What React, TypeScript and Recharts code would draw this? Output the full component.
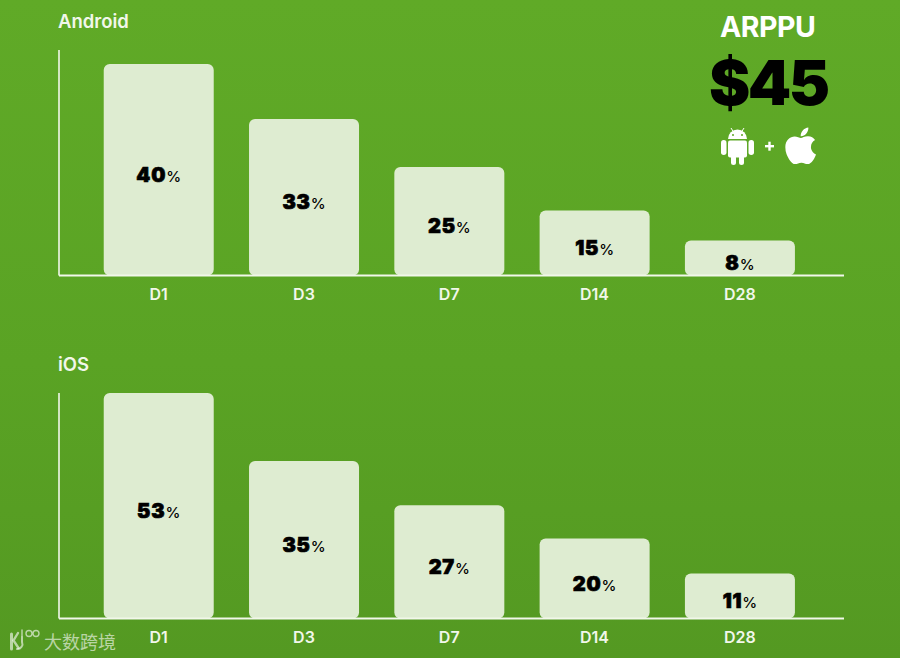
import React from 'react';
import { BarChart, Bar, XAxis, YAxis, LabelList } from 'recharts';

const days = ['D1', 'D3', 'D7', 'D14', 'D28'];
// Labels printed on the bars
const androidLabels = [40, 33, 25, 15, 8];
const iosLabels = [53, 35, 27, 20, 11];
// Bar lengths as drawn in the picture (they are not proportional to the printed labels)
const androidDrawn = [40, 29.6, 20.5, 12.3, 6.6];
const iosDrawn = [53, 37, 26.6, 18.8, 10.6];
const androidTop = 42.65;
const iosTop = 53;

const WHITE = '#F1F7EA';
const BAR = '#DEECD1';
const UI = 'Inter, "Noto Sans", sans-serif';

function build(drawn: number[], labels: number[]) {
  return days.map((d, i) => ({ day: d, drawn: drawn[i], label: labels[i] }));
}

function makeLabel(labels: number[]) {
  return (props: any) => {
    const { x, y, width, height, index } = props;
    return (
      <text x={x + width / 2} y={y + height / 2 + 5} textAnchor="middle" dominantBaseline="central" fill="#000">
        <tspan fontFamily={UI} fontWeight={900} fontSize={20} stroke="#000" strokeWidth={0.7} letterSpacing={0.8}>
          {labels[index]}
        </tspan>
        <tspan fontFamily={UI} fontWeight={500} fontSize={15} dy={1}>%</tspan>
      </text>
    );
  };
}

function Panel({ data, labels, top, domainTop }: { data: any[]; labels: number[]; top: number; domainTop: number }) {
  return (
    <div style={{ position: 'absolute', left: 0, top }}>
      <BarChart width={900} height={270} data={data} margin={{ top: 10, right: 56, bottom: 4.5, left: 58 }} barCategoryGap="12.2%">
        <XAxis
          dataKey="day"
          height={30}
          axisLine={{ stroke: WHITE, strokeWidth: 2 }}
          tickLine={false}
          padding={{ left: 27, right: 31.5 }}
          tick={{ fill: WHITE, fontFamily: UI, fontWeight: 600, fontSize: 16 }}
          tickMargin={7}
          interval={0}
        />
        <YAxis
          width={1}
          domain={[0, domainTop]}
          tick={false}
          tickLine={false}
          axisLine={{ stroke: WHITE, strokeWidth: 1.6 }}
        />
        <Bar dataKey="drawn" fill={BAR} radius={6} isAnimationActive={false}>
          <LabelList dataKey="label" content={makeLabel(labels)} />
        </Bar>
      </BarChart>
    </div>
  );
}

const textAt = (left: number, top: number, s: React.CSSProperties): React.CSSProperties => ({
  position: 'absolute', left, top, whiteSpace: 'nowrap', fontFamily: UI, ...s,
});

export default function App() {
  return (
    <div style={{ position: 'fixed', left: 0, top: 0, width: 900, height: 658, overflow: 'hidden', background: 'linear-gradient(180deg,#60AA27 0%,#5AA324 55%,#549922 100%)' }}>
      <div style={textAt(58, 10, { color: WHITE, fontSize: 18.5, fontWeight: 600, lineHeight: '22px' })}>Android</div>
      <div style={textAt(58, 353, { color: WHITE, fontSize: 18.5, fontWeight: 600, lineHeight: '22px' })}>iOS</div>

      <Panel data={build(androidDrawn, androidLabels)} labels={androidLabels} top={40} domainTop={androidTop} />
      <Panel data={build(iosDrawn, iosLabels)} labels={iosLabels} top={383} domainTop={iosTop} />

      <div style={textAt(720, 10, { color: '#fff', fontSize: 28.5, fontWeight: 700, lineHeight: '34px', letterSpacing: -0.5 })}>ARPPU</div>
      <div style={textAt(709, 44, { color: '#000', fontSize: 62, fontWeight: 900, lineHeight: '78px', letterSpacing: -2.5 })}>$45</div>

      <svg width={900} height={658} style={{ position: 'absolute', left: 0, top: 0 }}>
        <g fill="#fff">
          {/* Android */}
          <path d="M728 139a9.5 9.5 0 0 1 19 0z" />
          <line x1="731" y1="128" x2="733.5" y2="132" stroke="#fff" strokeWidth="1" />
          <line x1="744" y1="128" x2="741.5" y2="132" stroke="#fff" strokeWidth="1" />
          <rect x="728" y="140.5" width="19" height="17" rx="2" />
          <rect x="721" y="140" width="5.5" height="15" rx="2.7" />
          <rect x="748.5" y="140" width="5.5" height="15" rx="2.7" />
          <rect x="731" y="155" width="5" height="10" rx="2.5" />
          <rect x="739" y="155" width="5" height="10" rx="2.5" />
          <circle cx="733" cy="135" r="1" fill="#5CA625" />
          <circle cx="742" cy="135" r="1" fill="#5CA625" />
          {/* plus */}
          <rect x="765" y="145" width="9" height="2.4" />
          <rect x="768.3" y="141.7" width="2.4" height="9" />
          {/* Apple */}
          <path
            transform="translate(785 125) scale(0.0815)"
            d="M318.7 268.7c-.2-36.7 16.4-64.4 50-84.8-18.8-26.9-47.2-41.7-84.7-44.6-35.5-2.8-74.3 20.7-88.5 20.7-15 0-49.4-19.7-76.4-19.7C63.3 141.2 4 184.8 4 273.5q0 39.3 14.4 81.2c12.8 36.7 59 126.7 107.2 125.2 25.2-.6 43-17.9 75.8-17.9 31.8 0 48.3 17.9 76.4 17.9 48.6-.7 90.4-82.5 102.6-119.3-65.2-30.7-61.7-90-61.7-91.9zm-56.6-164.2c27.3-32.4 24.8-61.9 24-72.5-24.1 1.4-52 16.4-67.9 34.9-17.5 19.8-27.8 44.3-25.6 71.9 26.1 2 49.9-11.4 69.5-34.3z"
          />
        </g>
        {/* watermark logo */}
        <g fill="none" stroke="#fff" strokeOpacity="0.6" strokeLinecap="round">
          <path d="M11.5 634v15" strokeWidth="3" />
          <path d="M18 633l-4.5 7.5 5 7.5" strokeWidth="2.4" />
          <path d="M22 637v5a5 5 0 0 1-5 7" strokeWidth="2" />
          <path d="M22 630v6" strokeWidth="1.5" />
          <circle cx="29" cy="633.5" r="3" strokeWidth="1.4" />
          <circle cx="36" cy="633.5" r="3" strokeWidth="1.4" />
        </g>
      </svg>
      <div style={textAt(44, 629, { color: 'rgba(255,255,255,0.6)', fontFamily: '"Noto Sans CJK SC"', fontSize: 18, lineHeight: '24px', fontWeight: 400 })}>大数跨境</div>
    </div>
  );
}
